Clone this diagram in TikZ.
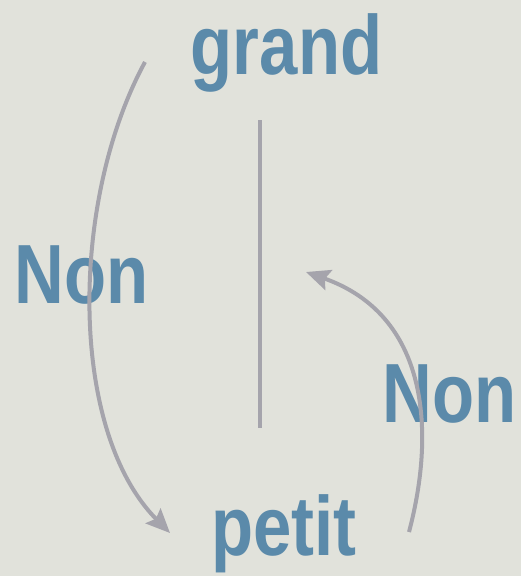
\documentclass[tikz,border=0pt]{standalone}
\usepackage{fontspec}
\setmainfont{Liberation Sans}
\usetikzlibrary{arrows.meta}
\definecolor{bgc}{HTML}{E1E2DB}
\definecolor{txt}{HTML}{5B8AAA}
\definecolor{arr}{HTML}{A5A4AC}
\tikzset{
  word/.style={inner sep=0pt, anchor=base, text=txt, font=\fontsize{84}{84}\selectfont\bfseries, xscale=0.82},
  curvearrow/.style={draw=arr, line width=4pt, -{Stealth[length=24pt,width=21pt,inset=4pt]}},
  divider/.style={draw=arr, line width=4pt}
}
\begin{document}
\begin{tikzpicture}[x=1pt,y=-1pt]
\fill[bgc] (0,0) rectangle (521,576);
\useasboundingbox (0,0) rectangle (521,576);
\node[word] (grand) at (286.5,74) {grand};
\node[word] (petit) at (284,555) {petit};
\node[word] (nonL) at (81.5,303) {Non};
\node[word] (nonR) at (449.5,422) {Non};
\coordinate (lineTop) at (260,120);
\coordinate (lineBot) at (260,428);
\coordinate (aStart) at (145,62);
\coordinate (aEnd) at (170,533);
\coordinate (bStart) at (409,532);
\coordinate (bEnd) at (306,272);
\draw[divider] (lineTop) -- (lineBot);
\draw[curvearrow] (aStart) .. controls (70,200) and (68,430) .. (aEnd);
\draw[curvearrow] (bStart) .. controls (436,430) and (428,315) .. (bEnd);
\end{tikzpicture}
\end{document}
